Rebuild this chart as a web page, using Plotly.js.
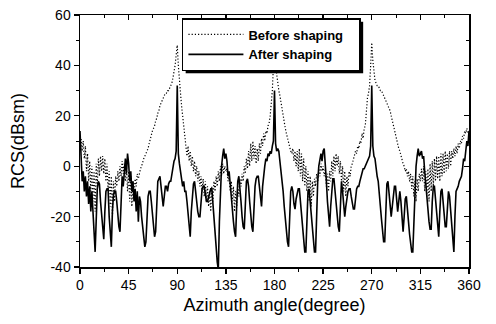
<!DOCTYPE html>
<html>
<head>
<meta charset="utf-8">
<script src="https://cdn.plot.ly/plotly-3.0.1.min.js"></script>
<style>html,body{margin:0;padding:0;background:#fff;}#chart{width:496px;height:324px;}</style>
</head>
<body>
<div id="chart"></div>
<script>
// Azimuth sampling: 0..360 deg, 1 deg step (via x0/dx)
const angleStart = 0;
const angleStep = 1;

const xTickVals = [0, 45, 90, 135, 180, 225, 270, 315, 360];
const xTickText = ["0", "45", "90", "135", "180", "225", "270", "315", "360"];
const yTickVals = [-40, -20, 0, 20, 40, 60];
const yTickText = ["-40", "-20", "0", "20", "40", "60"];

const seriesNames = ["Before shaping", "After shaping"];

// RCS before shaping (dBsm), 0..360 deg
const beforeShaping = [
  10,11,6,10,3,8,-2,5,-6,2,
  -10,0,-14,-2,-18,1,-8,3,-4,4,
  -2,4,-3,3,-6,1,-10,-2,-16,-4,
  -20,-6,-14,-4,-8,-2,-6,0,-4,2,
  -3,1,-6,0,-10,-2,
  -14,-4,-16,-6,-12,-5,-8,-3,-5,-2,
  -1,0,2,3,4,5,6,7,9,11,
  12,14,15,16,18,19,21,22,24,25,
  26,27,28,29,29,30,30,31,32,33,
  35,37,40,44,48,
  40,32,29,24,20,16,12,8,4,8,
  2,6,0,4,-2,2,-4,0,-6,-2,
  -8,-4,-10,-5,-12,-6,-14,-8,-16,-10,
  -18,-8,-14,-6,-10,-4,-8,-2,-6,0,
  -4,1,-3,0,-2,
  -1,-6,-4,-10,-6,
  -14,-8,-18,-10,-16,-8,-12,-5,-8,-3,
  -6,0,-3,3,-1,6,0,9,2,10,
  3,8,1,7,2,9,5,11,8,13,
  10,14,13,16,17,20,24,30,40,50,
  40,36,33,30,28,25,23,20,18,15,
  13,11,9,8,6,5,7,2,6,0,
  6,-2,7,-4,5,-6,3,-8,0,-10,
  -2,-14,-4,-16,-6,-12,-5,-8,-3,-6,
  -1,-4,1,-2,0,
  -4,-1,-8,-3,-10,
  -2,-6,2,-4,4,-2,5,0,4,-3,
  2,-6,0,-10,-2,-12,-4,-8,-2,-4,
  0,1,3,4,6,5,8,7,10,9,
  13,11,15,16,22,27,29,32,40,49,
  42,36,34,33,32,32,31,30,30,29,
  28,27,26,25,24,23,22,20,18,16,
  14,12,11,9,7,6,4,3,1,0,
  -2,-1,-4,-2,-6,-3,-9,-4,-12,-6,
  -14,-5,-10,-3,-6,
  -1,-6,0,-10,-2,
  -12,-1,-14,1,-10,2,-8,3,-6,4,
  -5,4,-6,5,-4,5,-3,6,-2,5,
  -1,6,0,6,3,7,4,8,5,9,
  7,10,9,12,11,14,13,15,13,12
];

// RCS after shaping (dBsm), 0..360 deg
const afterShaping = [
  14,3,-6,-2,-10,-4,-12,-6,-15,-8,
  -18,-10,-22,-26,-34,-20,-9,-6,-7,-14,
  -20,-26,-29,-18,-10,-9,-9,-20,-28,-32,
  -18,-11,-10,-10,-14,-20,-24,-26,-12,-4,
  -8,0,3,-3,5,1,
  -6,-2,-10,-6,-14,-9,-18,-10,-22,-12,
  -14,-20,-25,-28,-32,-30,-18,-12,-10,-10,
  -14,-20,-24,-28,-26,-14,-6,-5,-4,-8,
  -12,-16,-12,-8,-8,-10,-7,-6,-6,-3,
  0,2,3,6,32,
  5,1,-3,-5,-8,-6,-10,-10,-14,-20,
  -25,-28,-18,-10,-7,-6,-9,-14,-18,-20,
  -20,-14,-9,-8,-8,-11,-14,-14,-12,-10,
  -9,-9,-14,-20,-26,-32,-38,-41,-22,-8,
  0,4,7,3,5,
  2,-4,-2,-8,-12,
  -18,-22,-26,-28,-16,-6,-4,-8,-14,-20,
  -24,-25,-14,-6,-5,-8,-14,-20,-24,-26,
  -16,-8,-5,-4,-4,-8,-14,-16,-8,-2,
  0,3,2,5,4,6,5,8,10,30,
  9,6,7,6,2,-2,-4,-10,-16,-22,
  -26,-30,-32,-18,-10,-8,-10,-15,-17,-13,
  -10,-9,-9,-14,-20,-25,-30,-34,-34,-18,
  -10,-9,-14,-20,-26,-30,-34,-34,-18,-6,
  0,3,5,2,6,
  7,2,-6,-14,-20,
  -24,-16,-8,-5,-5,-10,-16,-21,-24,-26,
  -12,-6,-10,-16,-20,-16,-12,-10,-9,-9,
  -12,-15,-17,-17,-12,-9,-8,-8,-6,-4,
  -3,-1,-1,0,1,2,3,4,8,32,
  8,4,3,-1,-4,-6,-10,-16,-21,-26,
  -30,-30,-14,-7,-6,-10,-16,-20,-16,-10,
  -8,-8,-14,-18,-14,-10,-14,-20,-26,-20,
  -13,-12,-16,-22,-27,-31,-34,-34,-20,-6,
  0,4,7,4,5,
  6,3,4,-2,-8,
  -14,-18,-22,-25,-25,-14,-8,-8,-14,-20,
  -26,-28,-18,-10,-9,-14,-20,-24,-24,-14,
  -10,-12,-18,-26,-32,-34,-20,-10,-9,-8,
  -6,-5,-4,-1,3,2,6,10,8,14
];

const FONT = "Liberation Sans, Arial, sans-serif";
const PAD = "\u00a0\u00a0\u00a0";

const traces = [
  {
    type: "scatter", mode: "lines", name: "<b>" + seriesNames[0] + "</b>" + PAD,
    x0: angleStart, dx: angleStep, y: beforeShaping,
    line: {color: "#000", width: 1.2, dash: "1.2px,2px"},
    hoverinfo: "skip"
  },
  {
    type: "scatter", mode: "lines", name: "<b>" + seriesNames[1] + "</b>" + PAD,
    x0: angleStart, dx: angleStep, y: afterShaping,
    line: {color: "#000", width: 1.6},
    hoverinfo: "skip"
  },
  {
    type: "scatter", mode: "lines", x: [], y: [], xaxis: "x2", yaxis: "y2",
    showlegend: false, hoverinfo: "skip"
  }
];

const minorX = [22.5, 67.5, 112.5, 157.5, 202.5, 247.5, 292.5, 337.5];
const minorY = [-30, -10, 10, 30, 50];

const layout = {
  width: 496, height: 324,
  margin: {l: 80, r: 27, t: 15, b: 57},
  paper_bgcolor: "#fff", plot_bgcolor: "#fff",
  font: {family: FONT, color: "#000", size: 14},
  showlegend: true,
  legend: {
    x: 0.262, y: 0.988, xanchor: "left", yanchor: "top",
    bgcolor: "#fff", bordercolor: "#000", borderwidth: 1.5,
    font: {family: FONT, size: 13, color: "#000"},
    itemwidth: 55, tracegroupgap: 0
  },
  xaxis: {
    range: [0, 360], tickmode: "array", tickvals: xTickVals, ticktext: xTickText,
    ticks: "outside", ticklen: 5, tickwidth: 1.3, tickcolor: "#000",
    showline: true, linecolor: "#000", linewidth: 1.5, mirror: true,
    showgrid: false, zeroline: false,
    minor: {tickvals: minorX, ticks: "outside", ticklen: 3, tickwidth: 1, tickcolor: "#000"},
    tickfont: {family: FONT, size: 14, color: "#000"},
    title: {text: "Azimuth angle(degree)", font: {family: FONT, size: 18, color: "#000"}, standoff: 6}
  },
  yaxis: {
    range: [-40, 60], tickmode: "array", tickvals: yTickVals, ticktext: yTickText,
    ticks: "outside", ticklen: 5, tickwidth: 1.3, tickcolor: "#000",
    showline: true, linecolor: "#000", linewidth: 1.5, mirror: true,
    showgrid: false, zeroline: false,
    minor: {tickvals: minorY, ticks: "outside", ticklen: 3, tickwidth: 1, tickcolor: "#000"},
    tickfont: {family: FONT, size: 14, color: "#000"},
    title: {text: "RCS(dBsm)", font: {family: FONT, size: 18, color: "#000"}, standoff: 21}
  },
  xaxis2: {
    overlaying: "x", side: "top", anchor: "y", range: [0, 360],
    tickmode: "array", tickvals: xTickVals, showticklabels: false,
    ticks: "inside", ticklen: 5, tickwidth: 1.3, tickcolor: "#000",
    showgrid: false, zeroline: false, showline: false,
    minor: {tickvals: minorX, ticks: "inside", ticklen: 3, tickwidth: 1, tickcolor: "#000"}
  },
  yaxis2: {
    overlaying: "y", side: "right", anchor: "x", range: [-40, 60],
    tickmode: "array", tickvals: yTickVals, showticklabels: false,
    ticks: "inside", ticklen: 5, tickwidth: 1.3, tickcolor: "#000",
    showgrid: false, zeroline: false, showline: false,
    minor: {tickvals: minorY, ticks: "inside", ticklen: 3, tickwidth: 1, tickcolor: "#000"}
  }
};

function addShadow(gd) {
  const leg = gd.querySelector("g.legend");
  const bg = leg && leg.querySelector("rect.bg");
  if (!bg || leg.querySelector("rect.shadow")) return;
  const ns = "http://www.w3.org/2000/svg";
  const s = document.createElementNS(ns, "rect");
  s.setAttribute("class", "shadow");
  const x = parseFloat(bg.getAttribute("x") || 0);
  const y = parseFloat(bg.getAttribute("y") || 0);
  s.setAttribute("x", x + 3);
  s.setAttribute("y", y + 3);
  s.setAttribute("width", bg.getAttribute("width"));
  s.setAttribute("height", bg.getAttribute("height"));
  s.setAttribute("fill", "#000");
  leg.insertBefore(s, leg.firstChild);
}

Plotly.newPlot("chart", traces, layout, {staticPlot: true}).then(addShadow);
</script>
</body>
</html>
